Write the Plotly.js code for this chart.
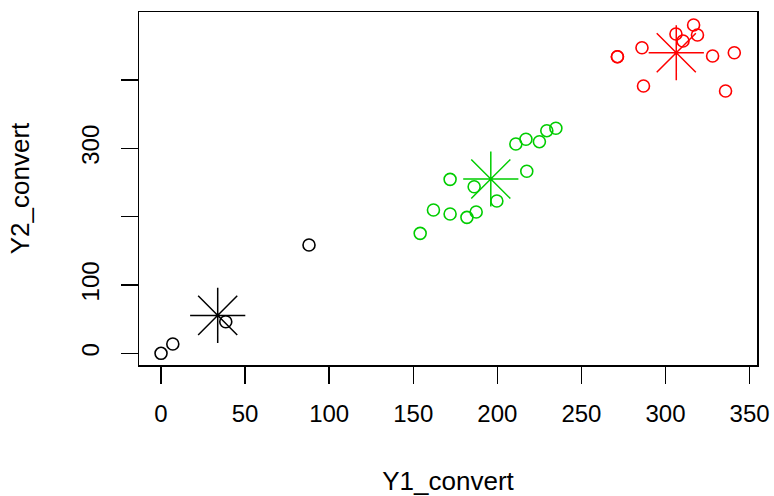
<!DOCTYPE html>
<html>
<head>
<meta charset="utf-8">
<script src="https://cdn.plot.ly/plotly-3.0.1.min.js"></script>
<style>html,body{margin:0;padding:0;background:#fff;}#chart{width:774px;height:496px;}</style>
</head>
<body>
<div id="chart"></div>
<script>
// Cluster 1 (black)
var c1_x = [0, 7.0, 38.5, 88.0];
var c1_y = [0, 13.6, 46.2, 158.5];
// Cluster 2 (red)
var c2_x = [271.4, 271.4, 286.0, 286.9, 306.2, 310.4, 316.7, 319.0, 328.0, 340.9, 335.7];
var c2_y = [434.1, 434.1, 447.2, 391.2, 467.3, 457.1, 480.5, 465.9, 435.1, 439.9, 383.9];
// Cluster 3 (green)
var c3_x = [154.1, 162.0, 171.9, 181.9, 187.4, 171.9, 186.2, 199.7, 217.5, 211.0, 217.0, 225.0, 229.4, 234.8];
var c3_y = [175.6, 209.7, 203.9, 199.0, 206.8, 254.6, 243.8, 222.9, 266.4, 306.3, 313.2, 309.7, 325.8, 329.3];
// Cluster centers
var centers_x = [33.7, 306.4, 196.1];
var centers_y = [55.5, 439.9, 255.1];
var clusterColors = ['#000000', '#FF0000', '#00CD00'];

var xTickVals = [0, 50, 100, 150, 200, 250, 300, 350];
var xTickText = ['0', '50', '100', '150', '200', '250', '300', '350'];
var yTickVals = [0, 100, 200, 300, 400];
var yTickText = ['0', '100', '', '300', ''];

var FONT = 'Liberation Sans, Arial, Helvetica, sans-serif';

function pts(x, y, color) {
  return {
    x: x, y: y, type: 'scatter', mode: 'markers', showlegend: false, hoverinfo: 'skip',
    marker: {symbol: 'circle-open', size: 12, color: color, line: {width: 1.6, color: color}}
  };
}
var data = [
  pts(c1_x, c1_y, clusterColors[0]),
  pts(c2_x, c2_y, clusterColors[1]),
  pts(c3_x, c3_y, clusterColors[2])
];
for (var i = 0; i < centers_x.length; i++) {
  data.push({
    x: [centers_x[i]], y: [centers_y[i]], type: 'scatter', mode: 'markers', showlegend: false, hoverinfo: 'skip',
    marker: {symbol: 'asterisk-open', size: 46, color: clusterColors[i], line: {width: 1.5, color: clusterColors[i]}}
  });
}

var layout = {
  width: 774, height: 496,
  margin: {l: 139, r: 17, t: 12, b: 131, pad: 0},
  paper_bgcolor: '#ffffff', plot_bgcolor: '#ffffff',
  font: {family: FONT, size: 24, color: '#000000'},
  xaxis: {
    range: [-13.1, 354.4], autorange: false,
    tickmode: 'array', tickvals: xTickVals, ticktext: xTickText,
    ticks: 'outside', ticklen: 17, tickwidth: 1.5, tickcolor: '#000000',
    showgrid: false, zeroline: false,
    showline: true, mirror: true, linecolor: '#000000', linewidth: 1.5,
    ticklabelstandoff: 10,
    tickfont: {family: FONT, size: 24, color: '#000000'},
    title: {text: 'Y1_convert', font: {family: FONT, size: 26, color: '#000000'}, standoff: 46}
  },
  yaxis: {
    range: [-17.1, 499.5], autorange: false,
    tickmode: 'array', tickvals: yTickVals, ticktext: yTickText,
    ticks: 'outside', ticklen: 17, tickwidth: 1.5, tickcolor: '#000000',
    tickangle: -90,
    showgrid: false, zeroline: false,
    showline: true, mirror: true, linecolor: '#000000', linewidth: 1.5,
    ticklabelstandoff: 12,
    tickfont: {family: FONT, size: 24, color: '#000000'},
    title: {text: 'Y2_convert', font: {family: FONT, size: 26, color: '#000000'}, standoff: 40}
  }
};

Plotly.newPlot('chart', data, layout, {displayModeBar: false, staticPlot: true});
</script>
</body>
</html>
